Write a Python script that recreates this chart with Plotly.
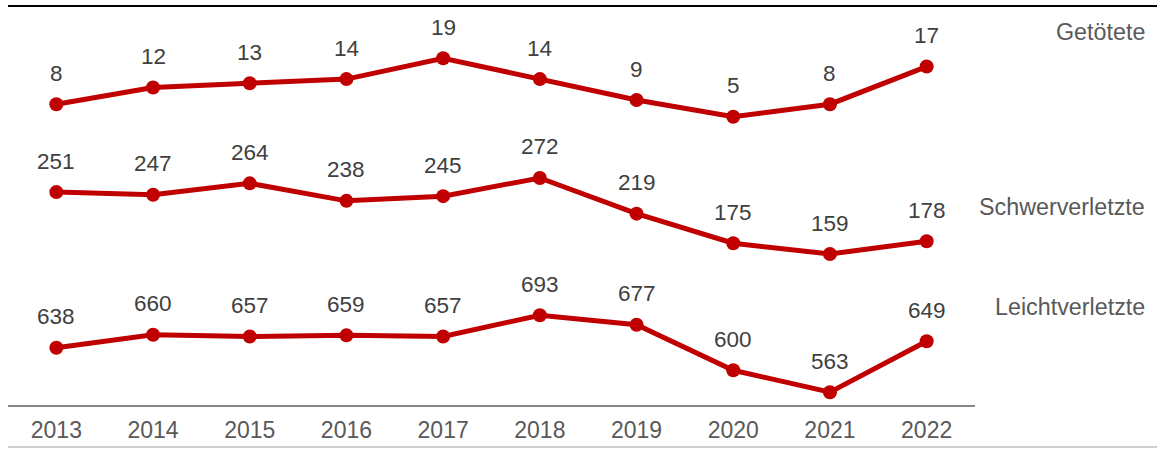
import plotly.graph_objects as go

years = ["2013", "2014", "2015", "2016", "2017", "2018", "2019", "2020", "2021", "2022"]
getoetete = [8, 12, 13, 14, 19, 14, 9, 5, 8, 17]
schwerverletzte = [251, 247, 264, 238, 245, 272, 219, 175, 159, 178]
leichtverletzte = [638, 660, 657, 659, 657, 693, 677, 600, 563, 649]
series_names = ["Getötete", "Schwerverletzte", "Leichtverletzte"]

RED = "#C00000"
LABEL = "#404040"
GREY = "#595959"
FONT = "Liberation Sans, Arial, sans-serif"

# each series gets its own stacked band via a separate y-range
series = [
    (getoetete, "y", [-63.95, 31.25]),
    (schwerverletzte, "y2", [-65.35, 526.05]),
    (leichtverletzte, "y3", [541.35, 1213.65]),
]
name_y = [32, 207, 307]  # pixel centres of series titles

W, H = 1160, 449
ML, MR, MT, MB = 8, 185, 7, 44
plot_h = H - MT - MB
plot_w = W - ML - MR

fig = go.Figure()
annotations = []
for (vals, yax, rng), name, ny in zip(series, series_names, name_y):
    fig.add_trace(go.Scatter(
        x=years, y=vals, yaxis=yax, mode="lines+markers",
        line=dict(color=RED, width=5),
        marker=dict(color=RED, size=14),
        hoverinfo="x+y", showlegend=False,
    ))
    # value labels above each point (category index used for x)
    for i, v in enumerate(vals):
        annotations.append(dict(
            x=i, y=v, xref="x", yref=yax, text=str(v), showarrow=False,
            yshift=31, font=dict(size=22.5, color=LABEL, family=FONT),
        ))
    annotations.append(dict(
        x=(1147 - ML) / plot_w, y=(H - MB - ny) / plot_h, xref="paper", yref="paper",
        text=name, showarrow=False, xanchor="right", yanchor="middle",
        font=dict(size=23.3, color=GREY, family=FONT),
    ))

def py(pix):
    return (H - MB - pix) / plot_h

def px(pix):
    return (pix - ML) / plot_w

shapes = [
    dict(type="line", xref="paper", yref="paper", x0=0, x1=px(1157), y0=py(6), y1=py(6),
         line=dict(color="#000000", width=2)),
    dict(type="line", xref="paper", yref="paper", x0=0, x1=px(1157), y0=py(447), y1=py(447),
         line=dict(color="#BFBFBF", width=1.5)),
]

fig.update_layout(
    width=W, height=H,
    margin=dict(l=ML, r=MR, t=MT, b=MB),
    paper_bgcolor="white", plot_bgcolor="white",
    font=dict(family=FONT),
    annotations=annotations, shapes=shapes,
    xaxis=dict(type="category", range=[-0.5, 9.5], showgrid=False, zeroline=False,
               showline=True, linecolor="#868686", linewidth=2,
               ticks="", tickfont=dict(size=23, color=GREY, family=FONT),
               ticklabelstandoff=3),
    yaxis=dict(range=series[0][2], visible=False, fixedrange=True),
    yaxis2=dict(range=series[1][2], visible=False, overlaying="y"),
    yaxis3=dict(range=series[2][2], visible=False, overlaying="y"),
)

fig.write_html("out.html")
